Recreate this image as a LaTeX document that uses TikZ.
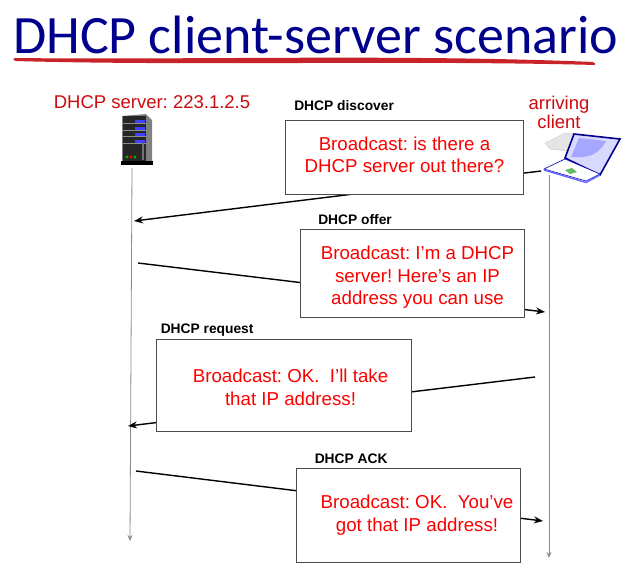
\documentclass[tikz,border=0pt]{standalone}
\usepackage{fontspec}
\setmainfont{Liberation Sans}
\newfontfamily\titlefont{Carlito}
\usepackage{tikz}
\usetikzlibrary{positioning}
\usetikzlibrary{calc}
\usetikzlibrary{arrows.meta}
\definecolor{titleblue}{RGB}{0,0,140}
\definecolor{swoosh}{RGB}{200,35,40}
\definecolor{msgred}{RGB}{252,0,0}
\definecolor{labelred}{RGB}{205,10,15}
\frenchspacing
\begin{document}
\begin{tikzpicture}[
    x=1pt,
    y=-1pt,
    msgbox/.style={draw=black!70, line width=0.9pt, fill=white, inner sep=0pt},
    msgtext/.style={inner sep=0pt, text=msgred, font=\fontsize{18.7}{22.5}\selectfont, align=center},
    msgname/.style={font=\bfseries\fontsize{13.8}{15}\selectfont, anchor=west, inner sep=0pt},
    place/.style={text=labelred, font=\fontsize{18.5}{19}\selectfont, align=center, inner sep=0pt},
    lifeline/.style={draw=black!45, line width=0.8pt, -{Stealth[length=6pt,width=5pt]}},
    msgline/.style={draw=black, line width=1.4pt, -{Stealth[length=9pt,width=7pt]}}]
    \useasboundingbox (0,0) rectangle (626,571);

    % Titolo
    \node [anchor=base west, inner sep=0pt, text=titleblue, font=\titlefont\fontsize{54}{60}\selectfont] (title) at (13,53) {DHCP client-server scenario};
    \fill [swoosh, rounded corners=1.5pt] (13,58) .. controls (200,60) and (400,54) .. (594,62) -- (596,65) .. controls (400,60) and (200,66) .. (14,61) -- cycle;

    % Etichette in alto
    \node [place] (serverlabel) at (152,102) {DHCP server: 223.1.2.5};
    \node [place] (clientlabel) at (559,112) {arriving\\client};

    % Server
    \fill [black!50] (122,116) -- (146,114) -- (152,120) -- (152,163) -- (122,163) -- cycle;
    \fill [black!85] (123,116) -- (146,116) -- (146,161) -- (123,161) -- cycle;
    \fill [black] (121,161) rectangle (153,165);
    \foreach \y in {121,128,134,141} {
      \draw [black!45, line width=0.5pt] (123,\y+2) -- (146,\y+2);
      \fill [blue!75!white] (135,\y-1.5) rectangle (145,\y+1.5);
    }
    \fill [green!70!black] (127,157) circle (1.7pt);
    \fill [red] (131,157) circle (1.7pt);
    \fill [green!70!black] (135,157) circle (1.7pt);
    \fill [black!55] (141.5,143) rectangle (144,160);

    % Laptop
    \fill [black!10, draw=black!20] (545,143) -- (565,133) -- (575,134) -- (567,151) -- (550,149) -- cycle;
    \fill [blue!15, draw=blue!55!black, line width=1.6pt] (574,134) -- (620,139) -- (600,175) -- (565,158) -- cycle;
    \fill [blue!35!white] (579,138) -- (606,141) .. controls (598,155) and (590,158) .. (571,157) -- cycle;
    \fill [white, draw=blue!70!black, line width=0.6pt] (565,159) -- (600,174) -- (586,181) -- (544,169) -- cycle;
    \draw [blue!60, line width=1.4pt] (544,170) -- (586,182.5) -- (600,175);
    \fill [black!45!green!60!white] (565,170) -- (572,168) -- (577,172) -- (570,174) -- cycle;

    % Linee di vita
    \coordinate (serverTop) at (132,168);
    \coordinate (serverEnd) at (130,541);
    \coordinate (clientTop) at (549,175);
    \coordinate (clientEnd) at (549,558);
    \draw [lifeline] (serverTop) -- (serverEnd);
    \draw [lifeline] (clientTop) -- (clientEnd);

    % Estremi dei messaggi
    \coordinate (discoverFrom) at (541,171);
    \coordinate (discoverTo) at (134,221);
    \coordinate (offerFrom) at (138,263);
    \coordinate (offerTo) at (545,312);
    \coordinate (requestFrom) at (535,377);
    \coordinate (requestTo) at (128,426);
    \coordinate (ackFrom) at (136,471);
    \coordinate (ackTo) at (543,521);
    \draw [msgline] (discoverFrom) -- (discoverTo);
    \draw [msgline] (offerFrom) -- (offerTo);
    \draw [msgline] (requestFrom) -- (requestTo);
    \draw [msgline] (ackFrom) -- (ackTo);

    % Riquadri
    \node [msgbox, minimum width=238pt, minimum height=74pt] (discover) at (404.5,157.5) {};
    \node [msgbox, minimum width=224pt, minimum height=88pt] (offer) at (412.5,273.5) {};
    \node [msgbox, minimum width=255pt, minimum height=92pt] (request) at (283.5,385.5) {};
    \node [msgbox, minimum width=224pt, minimum height=94pt] (ack) at (408,515) {};

    % Testi dei riquadri
    \node [msgtext, yshift=2.5pt] (discovertext) at (discover) {Broadcast: is there a\\DHCP server out there?};
    \node [msgtext, xshift=5pt, yshift=-4pt] (offertext) at (offer) {Broadcast: I'm a DHCP\\server! Here's an IP\\address you can use};
    \node [msgtext, xshift=7pt, yshift=-2pt] (requesttext) at (request) {Broadcast: OK.\ \ I'll take\\that IP address!};
    \node [msgtext, xshift=9pt] (acktext) at (ack) {Broadcast: OK.\ \ You've\\got that IP address!};

    % Nomi dei messaggi
    \node [msgname, above right=9pt and 9pt of discover.north west, anchor=south west] (discovername) {DHCP discover};
    \node [msgname, above right=4pt and 18pt of offer.north west, anchor=south west] (offername) {DHCP offer};
    \node [msgname, above right=2pt and 5pt of request.north west, anchor=south west] (requestname) {DHCP request};
    \node [msgname, above right=4pt and 19pt of ack.north west, anchor=south west] (ackname) {DHCP ACK};
\end{tikzpicture}
\end{document}
